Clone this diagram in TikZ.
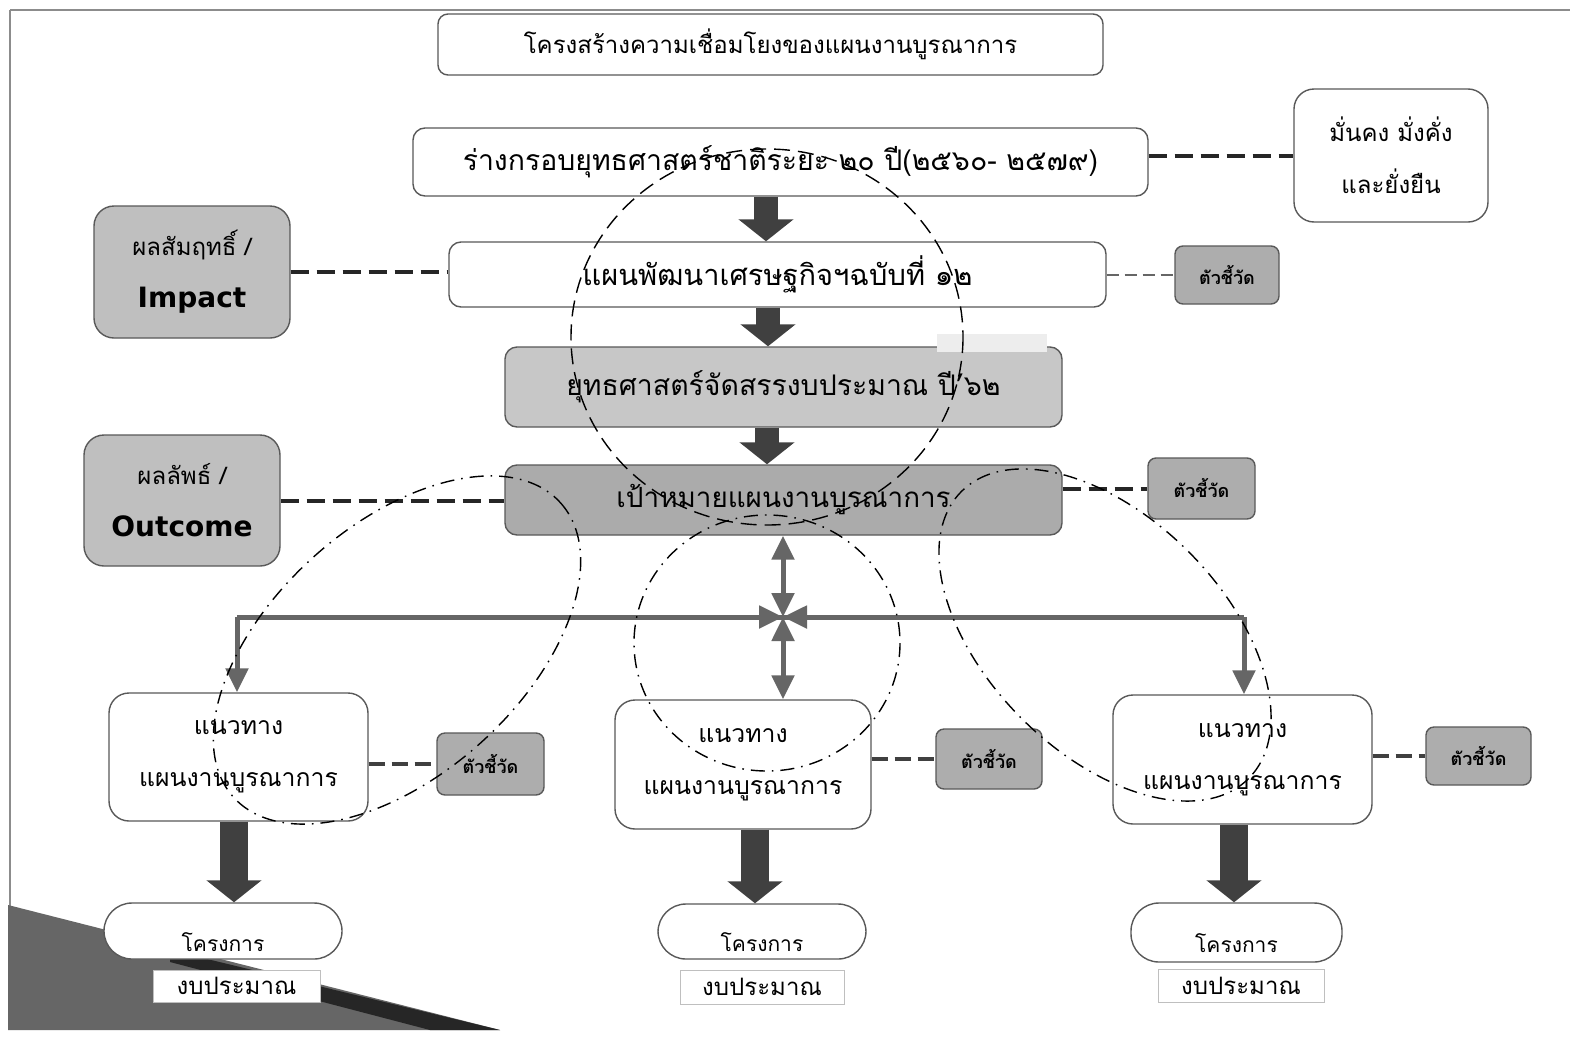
\documentclass[tikz,border=0pt]{standalone}
\usepackage{fontspec}
\newfontfamily\thai[Script=Thai]{Loma}
\newfontfamily\lat{DejaVu Sans}
\usetikzlibrary{arrows.meta,calc}

\begin{document}
\begin{tikzpicture}[x=0.5pt,y=-0.5pt,
  wbox/.style={draw=black!65, fill=white, rounded corners=6pt, line width=0.7pt,
    inner sep=0pt, align=center, font=\thai\fontsize{12}{14}\selectfont},
  gbox/.style={wbox, fill=black!25},
  sbox/.style={wbox, rounded corners=10pt},
  guide/.style={sbox, font=\thai\fontsize{12.4}{26}\selectfont},
  kbox/.style={draw=black!65, fill=black!32, rounded corners=4pt, line width=0.7pt,
    inner sep=0pt, font=\thai\fontsize{9}{11}\selectfont\bfseries},
  pill/.style={wbox, rounded corners=14pt, font=\thai\fontsize{10.5}{12}\selectfont},
  budget/.style={draw=black!25, fill=white, line width=0.5pt, inner sep=0pt,
    font=\thai\fontsize{12}{14}\selectfont},
  lnk/.style={draw=black!85, line width=2pt, dash pattern=on 9pt off 4pt},
  lnkmid/.style={draw=black!75, line width=1.6pt, dash pattern=on 8pt off 3.5pt},
  lnkthin/.style={draw=black!60, line width=1.3pt, dash pattern=on 6pt off 3pt},
  dashdot/.style={draw=black, line width=0.7pt, dash pattern=on 7pt off 3.5pt on 0.8pt off 3.5pt},
  ring/.style={draw=black, line width=0.7pt, dash pattern=on 8pt off 4pt},
  blockarr/.style={draw=black!75, line width=12pt, -{Triangle[width=27pt,length=11pt]}},
  bus/.style={draw=black!60, line width=2.5pt},
  busarr/.style={bus, -{Triangle[width=11pt,length=12pt]}},
  busarr2/.style={bus, {Triangle[width=11pt,length=12pt]}-{Triangle[width=11pt,length=12pt]}}
]
\useasboundingbox (0,0) rectangle (1579,1039);
\fill[white] (0,0) rectangle (1579,1039);

% slide frame and corner decoration
\draw[black!45, line width=1.2pt] (10,10) -- (1570,10);
\draw[black!45, line width=1.2pt] (10,10) -- (10,1030);
\fill[black!60] (8,905) -- (500,1030) -- (8,1030) -- cycle;
\fill[black!85] (170,950) -- (500,1030) -- (430,1030) -- (170,962) -- cycle;

% boxes
\node[wbox, minimum width=332.5pt, minimum height=30.5pt, rounded corners=5pt] (title) at (770.5,44.5)
  {โครงสร้างความเชื่อมโยงของแผนงานบูรณาการ};
\node[wbox, minimum width=367.5pt, minimum height=34pt, font=\thai\fontsize{14.2}{16}\selectfont] (A) at (780.5,162)
  {ร่างกรอบยุทธศาสตร์ชาติระยะ ๒๐ ปี(๒๕๖๐- ๒๕๗๙)};
\node[sbox, minimum width=97pt, minimum height=66.5pt, font=\thai\fontsize{12}{26}\selectfont] (stable) at (1391,155.5)
  {มั่นคง มั่งคั่ง\\และยั่งยืน};
\node[gbox, rounded corners=10pt, minimum width=98pt, minimum height=66pt, font=\thai\fontsize{12}{26}\selectfont] (impact) at (192,272)
  {ผลสัมฤทธิ์ /\\{\lat\bfseries\fontsize{14}{26}\selectfont Impact}};
\node[wbox, minimum width=328.5pt, minimum height=32.5pt, font=\thai\fontsize{14.5}{16}\selectfont] (B) at (777.5,274.5)
  {แผนพัฒนาเศรษฐกิจฯฉบับที่ ๑๒};
\node[kbox, minimum width=52pt, minimum height=29pt] (kB) at (1227,275) {ตัวชี้วัด};
\node[gbox, fill=black!22, minimum width=278.5pt, minimum height=40pt, font=\thai\fontsize{14.2}{16}\selectfont] (C) at (783.5,387)
  {ยุทธศาสตร์จัดสรรงบประมาณ ปี’๖๒};
\fill[black!7] (937,334) rectangle (1047,352);
\node[gbox, rounded corners=10pt, minimum width=98pt, minimum height=65.5pt, font=\thai\fontsize{12}{26}\selectfont] (outcome) at (182,500.5)
  {ผลลัพธ์ /\\{\lat\bfseries\fontsize{14}{26}\selectfont Outcome}};
\node[gbox, fill=black!33, minimum width=278.5pt, minimum height=35pt, font=\thai\fontsize{13.9}{16}\selectfont] (D) at (783.5,500)
  {เป้าหมายแผนงานบูรณาการ};
\node[kbox, minimum width=53.5pt, minimum height=30.5pt] (kD) at (1201.5,488.5) {ตัวชี้วัด};

\node[guide, minimum width=129.5pt, minimum height=64pt] (gL) at (238.5,757)
  {แนวทาง\\แผนงานบูรณาการ};
\node[guide, minimum width=128pt, minimum height=64.5pt] (gM) at (743,764.5)
  {แนวทาง\\แผนงานบูรณาการ};
\node[guide, minimum width=129.5pt, minimum height=64.5pt] (gR) at (1242.5,759.5)
  {แนวทาง\\แผนงานบูรณาการ};
\node[kbox, minimum width=53.5pt, minimum height=31pt] (kL) at (490.5,764) {ตัวชี้วัด};
\node[kbox, minimum width=53pt, minimum height=30pt] (kM) at (989,759) {ตัวชี้วัด};
\node[kbox, minimum width=52.5pt, minimum height=29pt] (kR) at (1478.5,756) {ตัวชี้วัด};

\node[pill, minimum width=119pt, minimum height=28pt] (pL) at (223,931) {\raisebox{-10pt}[0pt][0pt]{โครงการ}};
\node[pill, minimum width=104pt, minimum height=27.5pt] (pM) at (762,931.5) {\raisebox{-10pt}[0pt][0pt]{โครงการ}};
\node[pill, minimum width=105.5pt, minimum height=29.5pt] (pR) at (1236.5,932.5) {\raisebox{-10pt}[0pt][0pt]{โครงการ}};
\node[budget, minimum width=83.5pt, minimum height=16pt] (bL) at (236.5,986) {งบประมาณ};
\node[budget, minimum width=82pt, minimum height=17pt] (bM) at (762,987) {งบประมาณ};
\node[budget, minimum width=83pt, minimum height=16.5pt] (bR) at (1241,985.5) {งบประมาณ};

% main chain of block arrows
\draw[blockarr] (A.south -| 766,0) -- (B.north -| 766,0);
\draw[blockarr] (B.south -| 768,0) -- (C.north -| 768,0);
\draw[blockarr] (C.south -| 767,0) -- (D.north -| 767,0);
\draw[blockarr, line width=14pt] (gL.south -| 234,0) -- (pL.north -| 234,0);
\draw[blockarr, line width=14pt] (gM.south -| 755,0) -- (pM.north -| 755,0);
\draw[blockarr, line width=14pt] (gR.south -| 1234,0) -- (pR.north -| 1234,0);

% distribution bus
\coordinate (hub) at (783,617);
\coordinate (busL) at (237,617);
\coordinate (busR) at (1244,617);
\draw[bus] (busL) -- (hub) -- (busR);
\draw[busarr] (busL) -- (gL.north -| busL);
\draw[busarr] (busR) -- (gR.north -| busR);
\draw[busarr2] (D.south -| hub) -- (hub);
\draw[busarr2] (hub) -- (gM.north -| hub);
\draw[busarr] ($(hub)+(-40,0)$) -- (hub);
\draw[busarr] ($(hub)+(40,0)$) -- (hub);

% dashed links
\draw[lnk] (A.east |- stable.west) -- (stable.west);
\draw[lnk] (impact.east) -- (B.west |- impact.east);
\draw[lnkthin] (B.east |- kB.west) -- (kB.west);
\draw[lnk] (outcome.east) -- (D.west |- outcome.east);
\draw[lnk] (D.east |- kD.west) -- (kD.west);
\draw[lnkmid] (gL.east |- kL.west) -- (kL.west);
\draw[lnkmid] (gM.east |- kM.west) -- (kM.west);
\draw[lnkmid] (gR.east |- kR.west) -- (kR.west);

% grouping rings
\draw[ring] (767,337) ellipse [x radius=196, y radius=188];
\draw[dashdot] (767,643) ellipse [x radius=133, y radius=128];
\draw[dashdot, rotate around={42:(397,650)}] (397,650) ellipse [x radius=220, y radius=125];
\draw[dashdot, rotate around={-45:(1105,635)}] (1105,635) ellipse [x radius=203, y radius=118];
\end{tikzpicture}
\end{document}
